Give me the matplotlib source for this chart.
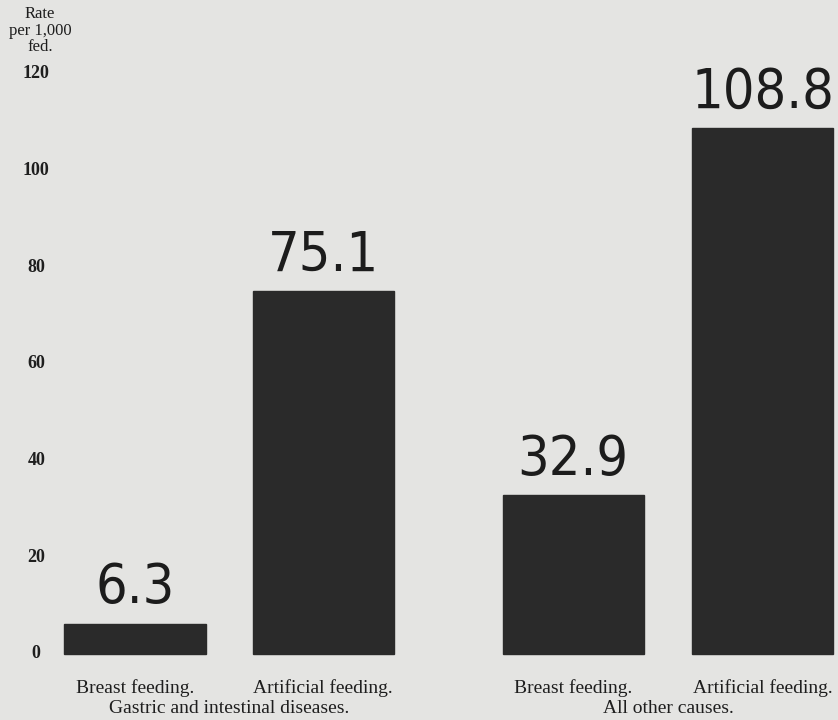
import matplotlib.pyplot as plt

# infant death rates per 1,000 fed, by feeding method and cause
groups = ["Gastric and intestinal diseases.", "All other causes."]
feeding = ["Breast feeding.", "Artificial feeding."]
rates = [6.3, 75.1, 32.9, 108.8]
value_labels = ["6.3", "75.1", "32.9", "108.8"]
yticks = [0, 20, 40, 60, 80, 100, 120]

paper = "#e4e4e2"
ink = "#2a2a2a"
serif = ["Liberation Serif", "DejaVu Serif"]

fig = plt.figure(figsize=(8.38, 7.2), dpi=100, facecolor=paper)
ax = fig.add_axes([0, 0, 1, 1])
ax.set_facecolor(paper)

# bar positions: two groups of two
xpos = [0, 1, 2.33, 3.34]
ax.bar(xpos, rates, width=0.75, color=ink, edgecolor=ink)

ax.set_xlim(-0.718, 3.739)
ax.set_ylim(-13.66, 135.3)
ax.axis("off")

for x, v, lab in zip(xpos, rates, value_labels):
    ax.annotate(lab, (x, v), xytext=(0, 6), textcoords="offset points",
                ha="center", va="bottom", fontsize=40,
                family="DejaVu Sans", stretch="condensed",
                color="#1c1c1c")

# y tick labels
for t in yticks:
    ax.text(-0.525, t, str(t), ha="center", va="center", fontsize=13,
            fontweight="bold", family=serif, color="#1e1e1e")
ax.text(-0.505, 134.0, "Rate\nper 1,000\nfed.", ha="center", va="top",
        fontsize=12, family=serif, color="#1e1e1e", linespacing=1.05)

# category labels below the bars
for i, x in enumerate(xpos):
    ax.text(x, -7.0, feeding[i % 2], ha="center", va="center",
            fontsize=14, family=serif, color="#1e1e1e")
for g, name in enumerate(groups):
    mid = (xpos[2 * g] + xpos[2 * g + 1]) / 2
    ax.text(mid, -11.2, name, ha="center", va="center",
            fontsize=14, family=serif, color="#1e1e1e")

fig.savefig("out.png", dpi=100, facecolor=paper)
